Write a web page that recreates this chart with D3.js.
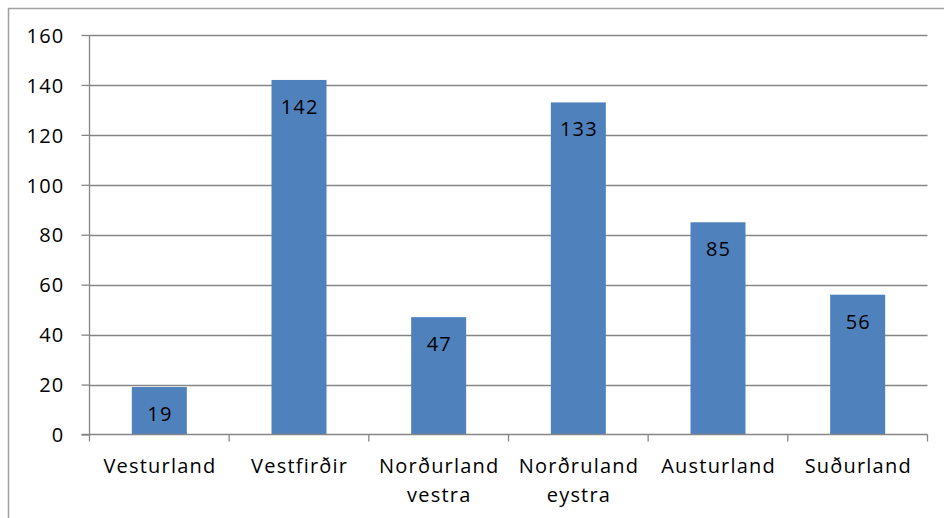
<!DOCTYPE html>
<html><head><meta charset="utf-8">
<script src="https://cdn.jsdelivr.net/npm/d3@7"></script>
<style>html,body{margin:0;padding:0;background:#fff}svg{display:block}</style>
</head><body>
<script>
const categories = [["Vesturland"],["Vestfirðir"],["Norðurland","vestra"],["Norðruland","eystra"],["Austurland"],["Suðurland"]];
const values = [19,142,47,133,85,56];
const yTicks = [0,20,40,60,80,100,120,140,160];

const W=944,H=518;
const svg=d3.select("body").append("svg").attr("width",W).attr("height",H);
const font="'Open Sans', sans-serif";
const fs=20, ls=1.2;
svg.append("path").attr("d","M8.5,518 V8.5 H944").attr("fill","none").attr("stroke","#a0a0a0").attr("stroke-width",1.5);

const x0=89.5,x1=927.5,yTop=35,yBot=434.5;
const y=d3.scaleLinear().domain([0,160]).range([yBot,yTop]);

const g=svg.append("g");
g.selectAll(".grid").data(yTicks.filter(d=>d>0)).join("line")
 .attr("x1",x0).attr("x2",x1).attr("y1",d=>Math.round(y(d))+0.5).attr("y2",d=>Math.round(y(d))+0.5)
 .attr("stroke","#868686").attr("stroke-width",1.3);
const xb=d3.scaleBand().domain(d3.range(values.length)).range([x0,x1]);
const bw=55;
g.selectAll(".bar").data(values).join("rect")
 .attr("x",(d,i)=>xb(i)+xb.bandwidth()/2-bw/2).attr("width",bw)
 .attr("y",d=>y(d)).attr("height",d=>yBot-y(d)).attr("fill","#4F81BD");
g.selectAll(".vl").data(values).join("text")
 .attr("x",(d,i)=>xb(i)+xb.bandwidth()/2+ls/2).attr("y",d=>y(d)+34)
 .attr("text-anchor","middle").attr("font-family",font).attr("font-size",fs).attr("letter-spacing",ls).attr("fill","#000")
 .text(d=>d);
const ya=svg.append("g").attr("transform",`translate(${x0},0)`)
 .call(d3.axisLeft(y).tickValues(yTicks).tickSize(8).tickPadding(17));
ya.select(".domain").attr("stroke","#868686").attr("stroke-width",1.3).attr("d",`M0,${yTop}V${yBot}`);
ya.selectAll(".tick line").attr("stroke","#868686").attr("stroke-width",1.3);
ya.selectAll(".tick text").attr("font-family",font).attr("font-size",fs).attr("letter-spacing",ls).attr("fill","#000").attr("dy","0.36em");
const xa=svg.append("g").attr("transform",`translate(0,${yBot})`);
xa.append("line").attr("x1",x0-8).attr("x2",x1).attr("y1",0).attr("y2",0).attr("stroke","#868686").attr("stroke-width",1.3);
xa.selectAll(".tk").data(d3.range(values.length+1)).join("line")
 .attr("x1",i=>i<values.length?xb(i):x1).attr("x2",i=>i<values.length?xb(i):x1)
 .attr("y1",0).attr("y2",7).attr("stroke","#868686").attr("stroke-width",1.3);
const lbl=xa.selectAll(".xl").data(categories).join("text")
 .attr("text-anchor","middle").attr("font-family",font).attr("font-size",fs).attr("letter-spacing",ls).attr("fill","#000")
 .attr("transform",(d,i)=>`translate(${xb(i)+xb.bandwidth()/2+ls/2},38)`);
lbl.selectAll("tspan").data(d=>d).join("tspan").attr("x",0).attr("dy",(d,i)=>i?29:0).text(d=>d);
</script>
</body></html>
